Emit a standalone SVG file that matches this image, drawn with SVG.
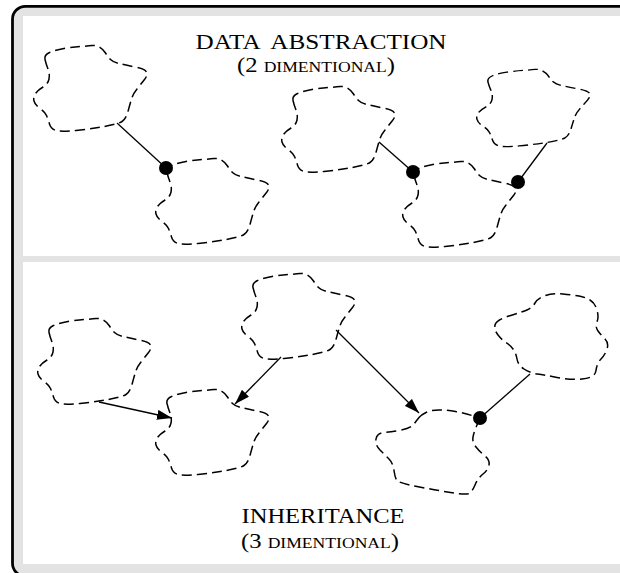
<svg xmlns="http://www.w3.org/2000/svg" xmlns:xlink="http://www.w3.org/1999/xlink" width="620" height="573" viewBox="0 0 620 573">
<style>
.cloud{fill:none;stroke:#000;stroke-width:1.5;stroke-dasharray:10 5;stroke-linejoin:round}
.conn{fill:none;stroke:#000;stroke-width:1.3}
.dot{fill:#000}
.t{font-family:"Liberation Serif","Times New Roman",serif;fill:#000;text-anchor:middle}
.frame{fill:#e3e3e3;stroke:#000;stroke-width:2.8}
.panel{fill:#fff}
</style>
<defs>
<path id="cloudShape" class="cloud" d="M1,4.5 Q0,0 5.5,-2.5 Q11,-5 20,-6.5 Q29,-8 36.5,-8.5 Q44,-9 48,-9.5 Q52,-10 55.5,-8 Q59,-6 61.5,-2 Q64,2 66.5,4.5 Q69,7 75,8.5 Q81,10 91,12 Q101,14 102.5,17 Q104,20 100.5,24.5 Q97,29 93,34 Q89,39 87.5,44 Q86,49 84,56.5 Q82,64 78,66.5 Q74,69 60.5,71.5 Q47,74 32,75.5 Q17,77 12,75.5 Q7,74 5.5,69 Q4,64 2.5,60.5 Q1,57 -4,53.5 Q-9,50 -10,46 Q-11,42 -8.5,38.5 Q-6,35 -1,32 Q4,29 5,24 Q6,19 4,14 Q2,9 1,4.5 Z"/>
<marker id="arr" markerUnits="userSpaceOnUse" markerWidth="16" markerHeight="10" refX="15" refY="5" orient="auto">
<path d="M0,0 L15,5 L0,10 Z" fill="#000"/>
</marker>
</defs>

<g id="background">
<rect class="frame" x="12.5" y="6.3" width="640" height="570" rx="13"/>
<rect class="panel" x="23" y="16" width="597" height="240"/>
<rect class="panel" x="23" y="262" width="597" height="302"/>
</g>

<g id="top-title">
<text class="t" x="321" y="49" font-size="21" textLength="251" lengthAdjust="spacingAndGlyphs" xml:space="preserve">DATA  ABSTRACTION</text>
<text class="t" x="316" y="72" font-size="21" textLength="158" lengthAdjust="spacingAndGlyphs">(2 <tspan font-size="15">DIMENTIONAL</tspan>)</text>
</g>

<g id="bottom-title">
<text class="t" x="323" y="523" font-size="21" textLength="163" lengthAdjust="spacingAndGlyphs">INHERITANCE</text>
<text class="t" x="320" y="548" font-size="21" textLength="158" lengthAdjust="spacingAndGlyphs">(3 <tspan font-size="15">DIMENTIONAL</tspan>)</text>
</g>

<g id="c1"><use xlink:href="#cloudShape" href="#cloudShape" class="cloud" transform="translate(44,55)"/></g>
<g id="c2"><use xlink:href="#cloudShape" href="#cloudShape" class="cloud" transform="translate(166,168)"/></g>
<g id="c3"><use xlink:href="#cloudShape" href="#cloudShape" class="cloud" transform="translate(292,96)"/></g>
<g id="c4"><use xlink:href="#cloudShape" href="#cloudShape" class="cloud" transform="translate(413,171)"/></g>
<g id="c5"><use xlink:href="#cloudShape" href="#cloudShape" class="cloud" transform="translate(487,78) scale(1,0.9)"/></g>

<g id="c6"><use xlink:href="#cloudShape" href="#cloudShape" class="cloud" transform="translate(48,328)"/></g>
<g id="c7"><use xlink:href="#cloudShape" href="#cloudShape" class="cloud" transform="translate(166,399)"/></g>
<g id="c8"><use xlink:href="#cloudShape" href="#cloudShape" class="cloud" transform="translate(252,283)"/></g>
<g id="c9"><path class="cloud" d="M419,417.5 Q421,415 426,412.5 Q431,410 439,410 Q447,410 455.5,411.5 Q464,413 472,415.5 Q480,418 477,425 Q474,432 473,437 Q472,442 476,447 Q480,452 485,456 Q490,460 489,465 Q488,470 483,474 Q478,478 475,485 Q472,492 469,493.5 Q466,495 450.5,492.5 Q435,490 417,486.5 Q399,483 397,480.5 Q395,478 394,470.5 Q393,463 389,459 Q385,455 380,450 Q375,445 376,439 Q377,433 384,432.5 Q391,432 401,430 Q411,428 414,424 Q417,420 419,417.5 Z"/></g>
<g id="c10"><path class="cloud" d="M495,325 Q496,320 509,316 Q522,312 527,310 Q532,308 535,303 Q538,298 545.5,295.5 Q553,293 563,294 Q573,295 579,296 Q585,297 590,300 Q595,303 597,310 Q599,317 597,322 Q595,327 598,331 Q601,335 605,339 Q609,343 607,349 Q605,355 601,359 Q597,363 596,370.5 Q595,378 582,379 Q569,380 557,377.5 Q545,375 537.5,374 Q530,373 524,369 Q518,365 517,359 Q516,353 513,349 Q510,345 506,342.5 Q502,340 498,335 Q494,330 495,325 Z"/></g>

<g id="connectors">
<line class="conn" x1="117" y1="123" x2="166" y2="168"/>
<line class="conn" x1="379" y1="142" x2="413" y2="172"/>
<line class="conn" x1="547" y1="143" x2="518" y2="182"/>
<line class="conn" x1="530" y1="374" x2="480" y2="418"/>
<line class="conn" x1="99" y1="402" x2="172" y2="418" marker-end="url(#arr)"/>
<line class="conn" x1="281" y1="357" x2="235" y2="404" marker-end="url(#arr)"/>
<line class="conn" x1="336" y1="330" x2="419" y2="413" marker-end="url(#arr)"/>
<circle class="dot" cx="166" cy="168" r="7"/>
<circle class="dot" cx="413" cy="172" r="7"/>
<circle class="dot" cx="518" cy="182" r="7"/>
<circle class="dot" cx="480" cy="418" r="7"/>
</g>
</svg>
